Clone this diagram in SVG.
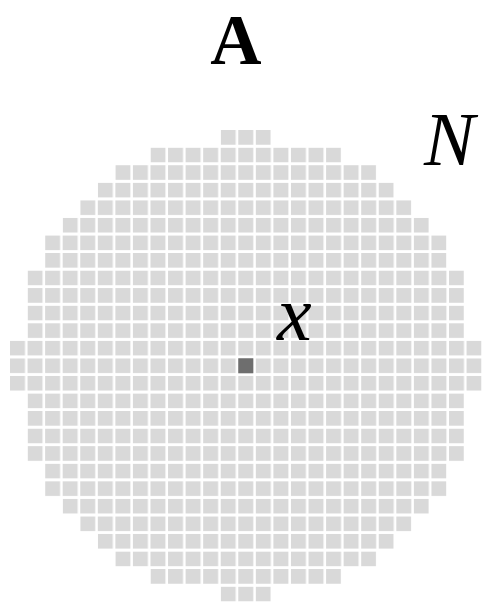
<svg xmlns="http://www.w3.org/2000/svg" width="487" height="603" viewBox="0 0 487 603">
<defs>
<pattern id="cells" patternUnits="userSpaceOnUse" x="10" y="130" width="17.56" height="17.56">
<rect x="0" y="0" width="15" height="15" fill="#d9d9d9"/>
</pattern>
<style>
.row{fill:url(#cells)}
.lbl{font-family:'Liberation Serif','Times New Roman',serif;fill:#000}
</style>
</defs>
<rect width="487" height="603" fill="#ffffff"/>
<g id="disc">
<rect class="row" x="220.72" y="130" width="50.12" height="15"/>
<rect class="row" x="150.48" y="147.56" width="190.6" height="15"/>
<rect class="row" x="115.36" y="165.12" width="260.84" height="15"/>
<rect class="row" x="97.8" y="182.68" width="295.96" height="15"/>
<rect class="row" x="80.24" y="200.24" width="331.08" height="15"/>
<rect class="row" x="62.68" y="217.8" width="366.2" height="15"/>
<rect class="row" x="45.12" y="235.36" width="401.32" height="15"/>
<rect class="row" x="45.12" y="252.92" width="401.32" height="15"/>
<rect class="row" x="27.56" y="270.48" width="436.44" height="15"/>
<rect class="row" x="27.56" y="288.04" width="436.44" height="15"/>
<rect class="row" x="27.56" y="305.6" width="436.44" height="15"/>
<rect class="row" x="27.56" y="323.16" width="436.44" height="15"/>
<rect class="row" x="10" y="340.72" width="471.56" height="15"/>
<rect class="row" x="10" y="358.28" width="471.56" height="15"/>
<rect class="row" x="10" y="375.84" width="471.56" height="15"/>
<rect class="row" x="27.56" y="393.4" width="436.44" height="15"/>
<rect class="row" x="27.56" y="410.96" width="436.44" height="15"/>
<rect class="row" x="27.56" y="428.52" width="436.44" height="15"/>
<rect class="row" x="27.56" y="446.08" width="436.44" height="15"/>
<rect class="row" x="45.12" y="463.64" width="401.32" height="15"/>
<rect class="row" x="45.12" y="481.2" width="401.32" height="15"/>
<rect class="row" x="62.68" y="498.76" width="366.2" height="15"/>
<rect class="row" x="80.24" y="516.32" width="331.08" height="15"/>
<rect class="row" x="97.8" y="533.88" width="295.96" height="15"/>
<rect class="row" x="115.36" y="551.44" width="260.84" height="15"/>
<rect class="row" x="150.48" y="569" width="190.6" height="15"/>
<rect class="row" x="220.72" y="586.56" width="50.12" height="15"/>
</g>
<g id="center">
<rect x="238.28" y="358.28" width="15" height="15" fill="#6e6e6e"/>
</g>
<g id="labels">
<text class="lbl" x="236" y="64" font-size="71" font-weight="bold" text-anchor="middle">A</text>
<text class="lbl" x="424" y="165" font-size="76" font-style="italic">N</text>
<text class="lbl" x="277" y="340" font-size="78" font-style="italic">x</text>
</g>
</svg>
